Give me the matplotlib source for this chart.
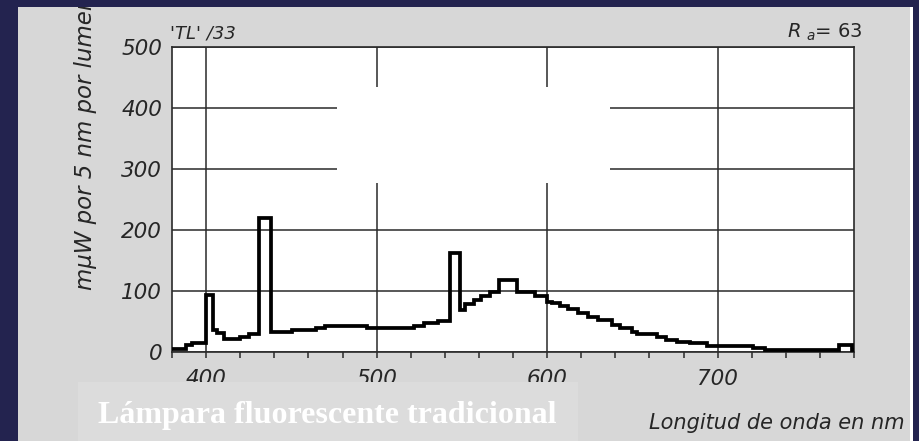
import numpy as np
import matplotlib.pyplot as plt
from matplotlib.patches import Rectangle

plt.rcParams['font.family'] = ['DejaVu Sans']
plt.rcParams['mathtext.fontset'] = 'custom'
plt.rcParams['mathtext.rm'] = 'DejaVu Sans:italic'
plt.rcParams['mathtext.it'] = 'DejaVu Sans:italic'

# spectral power distribution, TL/33 tube (step edges in nm, levels in mW per 5 nm per lumen)
edges = [380, 388, 392, 400, 404, 406.5, 410.5, 420, 425, 431, 438, 450.5, 464.5,
         470, 494.5, 522, 528, 536, 543, 549, 552, 557, 561.5, 566.5, 572, 582.5,
         593, 600, 603, 607.5, 612, 618, 624, 630, 638, 643, 650, 653, 664.5, 670,
         676, 684, 694, 721, 728, 771, 779, 780]
levels = [5, 12, 15, 93, 36, 31, 21, 25, 29, 219, 33, 36, 40,
          43, 39, 43, 47, 51, 162, 69, 79, 85, 91, 99, 118,
          99, 91, 82, 80, 75, 70, 64, 58, 52, 44, 39, 33, 29, 25,
          20, 16, 14, 10, 6, 3, 11, 3]

x_major = [400, 500, 600, 700]
y_major = [0, 100, 200, 300, 400, 500]

W, H = 919, 441
NAVY = '#23234f'
PANEL = '#d7d7d7'
INK = '#262626'

fig = plt.figure(figsize=(W / 100, H / 100), dpi=100, facecolor=NAVY)

def fx(px):
    return px / W

def fy(py):
    return 1 - py / H

# light panel behind the chart
fig.patches.append(Rectangle((fx(18), 0), fx(910 - 18), fy(7), transform=fig.transFigure,
                             facecolor=PANEL, edgecolor='none', zorder=-2))
fig.patches.append(Rectangle((fx(910), 0), fx(3), fy(7), transform=fig.transFigure,
                             facecolor='white', edgecolor='none', zorder=-2))

ax = fig.add_axes([fx(172), fy(352), fx(854 - 172), (352 - 47) / H])
ax.set_facecolor('white')

ax.stairs(levels, edges, color='black', linewidth=2.7, zorder=3, baseline=None)

ax.set_xlim(380, 780)
ax.set_ylim(0, 500)
ax.set_xticks(x_major)
ax.set_xticks(np.arange(380, 781, 20), minor=True)
ax.set_yticks(y_major)
ax.grid(True, which='major', color='#2a2a2a', linewidth=1.1)
ax.set_axisbelow(True)

# blank patch in the middle of the grid
ax.add_patch(Rectangle((477, 277), 160, 157, facecolor='white', edgecolor='none', zorder=1))

for s in ax.spines.values():
    s.set_color('#2a2a2a')
    s.set_linewidth(1.2)

ax.tick_params(axis='x', which='both', direction='out', length=4, width=1.1,
               color='#2a2a2a', pad=8.5, labelsize=15.5, labelcolor=INK)
ax.tick_params(axis='y', length=0, pad=7, labelsize=15.5, labelcolor=INK)
for lab in ax.get_xticklabels() + ax.get_yticklabels():
    lab.set_fontstyle('italic')

fig.text(fx(170), fy(38), "'TL' /33", fontsize=13, style='italic', color=INK,
         ha='left', va='baseline')
fig.text(fx(863), fy(38), r'$R\;_{\mathrm{a}}$= 63', fontsize=14, color=INK,
         ha='right', va='baseline')

fig.text(fx(86), fy(290), 'm\u03bcW por 5 nm por lumen', rotation=90, fontsize=16.5,
         style='italic', color=INK, ha='center', va='bottom', zorder=3)

fig.text(fx(905), fy(429), 'Longitud de onda en nm', fontsize=15, style='italic',
         color=INK, ha='right', va='baseline')

# caption box
fig.patches.append(Rectangle((fx(78), 0), fx(578 - 78), fy(382), transform=fig.transFigure,
                             facecolor='#dcdcdc', edgecolor='none', zorder=5))
fig.text(fx(98), fy(423), 'Lámpara fluorescente tradicional', fontsize=23, fontweight='bold',
         family='Liberation Serif', color='white', ha='left', va='baseline', zorder=6)

# dark frame on top
fig.patches.append(Rectangle((0, fy(7)), 1, 7 / H, transform=fig.transFigure,
                             facecolor=NAVY, edgecolor='none', zorder=10))
fig.patches.append(Rectangle((0, 0), fx(18), 1, transform=fig.transFigure,
                             facecolor=NAVY, edgecolor='none', zorder=10))
fig.patches.append(Rectangle((fx(913), 0), fx(6), 1, transform=fig.transFigure,
                             facecolor=NAVY, edgecolor='none', zorder=10))

fig.savefig('out.png', dpi=100, facecolor=NAVY)
